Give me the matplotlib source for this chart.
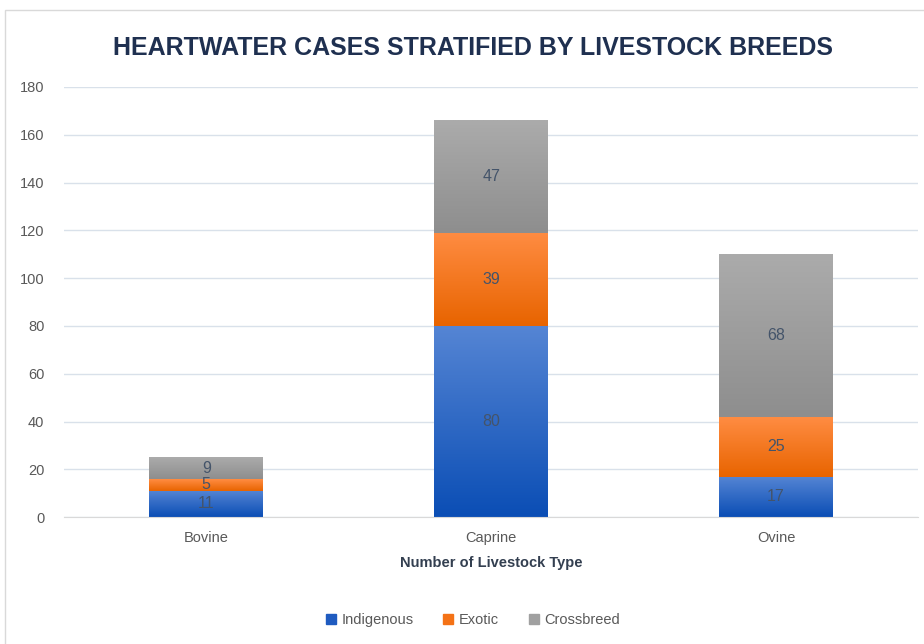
import numpy as np
import matplotlib.pyplot as plt
from matplotlib.colors import LinearSegmentedColormap
from matplotlib.patches import Patch

categories = ["Bovine", "Caprine", "Ovine"]
indigenous = [11, 80, 17]
exotic = [5, 39, 25]
crossbreed = [9, 47, 68]
series = [("Indigenous", indigenous), ("Exotic", exotic), ("Crossbreed", crossbreed)]
yticks = [0, 20, 40, 60, 80, 100, 120, 140, 160, 180]

# top colour, bottom colour of each gradient, plus legend colour
grads = {
    "Indigenous": ("#5585D4", "#0B4EB5", "#1F5BC0"),
    "Exotic": ("#FF8C42", "#E86400", "#F47216"),
    "Crossbreed": ("#ABABAB", "#8E8E8E", "#A0A0A0"),
}

plt.rcParams['font.family'] = ['Liberation Sans', 'DejaVu Sans']

fig = plt.figure(figsize=(9.24, 6.44), dpi=100)
# outer chart frame
fig.add_artist(plt.Rectangle((5 / 924, -0.01), 1.0, 1 - 10 / 644 + 0.01,
                             transform=fig.transFigure, fill=False,
                             edgecolor='#D9D9D9', lw=1))
ax = fig.add_axes([0.069, 0.197, 0.925, 0.668])

x = np.arange(len(categories))
bottom = np.zeros(len(categories))
for name, vals in series:
    top_c, bot_c, leg_c = grads[name]
    cmap = LinearSegmentedColormap.from_list(name, [bot_c, top_c])
    bars = ax.bar(x, vals, 0.4, bottom=bottom, color=leg_c, label=name, zorder=2)
    for b, v in zip(bars, vals):
        x0, y0 = b.get_x(), b.get_y()
        w, h = b.get_width(), b.get_height()
        grad = np.linspace(0, 1, 100).reshape(-1, 1)
        ax.imshow(grad, cmap=cmap, origin='lower', aspect='auto',
                  extent=[x0, x0 + w, y0, y0 + h], zorder=2.5)
        ax.text(x0 + w / 2, y0 + h / 2, str(v), ha='center', va='center',
                fontsize=11.5, color='#44546A', zorder=3)
    bottom += np.array(vals)

ax.set_xlim(-0.5, 2.5)
ax.set_ylim(0, 180)
ax.set_yticks(yticks)
ax.set_xticks(x)
ax.set_xticklabels(categories)
ax.tick_params(axis='both', length=0, labelsize=10.5, colors='#595959')
ax.tick_params(axis='y', pad=14)
ax.tick_params(axis='x', pad=10)
ax.grid(axis='y', color='#D9E1EA', lw=1, zorder=0)
for s in ['top', 'right', 'left']:
    ax.spines[s].set_visible(False)
ax.spines['bottom'].set_color('#D9D9D9')
ax.set_xlabel("Number of Livestock Type", fontsize=10.5, fontweight='bold',
              color='#333F50', labelpad=8)

fig.text(0.512, 0.926, "HEARTWATER CASES STRATIFIED BY LIVESTOCK BREEDS",
         ha='center', va='center', fontsize=18, fontweight='bold',
         color='#1F3050')

handles = [Patch(color=grads[n][2]) for n, _ in series]
labels = [n for n, _ in series]
fig.legend(handles, labels, loc='center', bbox_to_anchor=(0.512, 0.037),
           ncol=3, frameon=False, fontsize=10.5, handlelength=0.7,
           handleheight=0.7, handletextpad=0.4, columnspacing=2.0,
           labelcolor='#595959')

plt.savefig("out.png", dpi=100)
